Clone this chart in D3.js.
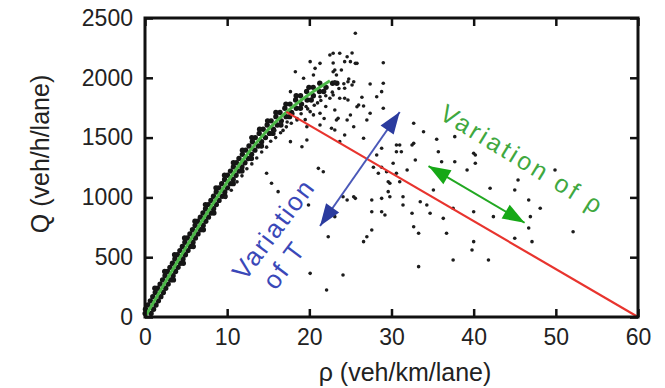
<!DOCTYPE html>
<html>
<head>
<meta charset="utf-8">
<script src="https://cdn.jsdelivr.net/npm/d3@7"></script>
<style>
  body { margin: 0; background: #fff; }
  svg { display: block; }
  text { font-family: "Liberation Sans", Arial, sans-serif; }
</style>
</head>
<body>
<script>
// tick labels
const rhoTicks = [0, 10, 20, 30, 40, 50, 60];
const qTicks = [0, 500, 1000, 1500, 2000, 2500];

// measured (rho, Q) points of the dense free-flow band, both sides of the fit
const bandPoints = [
  [0.02,30],[0.74,30],[0.06,65],[1.04,65],[0.36,100],[1.34,100],[0.65,135],[1.63,135],
  [0.95,170],[1.93,170],[1.25,205],[2.23,205],[1.54,240],[2.52,240],[1.84,275],[2.82,275],
  [2.14,310],[3.12,310],[2.44,345],[3.42,345],[2.74,380],[3.72,380],[3.04,415],[4.02,415],
  [3.34,450],[4.32,450],[3.64,485],[4.62,485],[3.94,520],[4.92,520],[4.25,555],[5.23,555],
  [4.55,590],[5.53,590],[4.86,625],[5.84,625],[5.16,660],[6.14,660],[5.47,695],[6.45,695],
  [5.78,730],[6.76,730],[6.1,765],[7.08,765],[6.42,800],[7.4,800],[6.74,835],[7.72,835],
  [7.06,870],[8.04,870],[7.37,905],[8.35,905],[7.7,940],[8.68,940],[8.03,975],[9.01,975],
  [8.34,1010],[9.38,1010],[8.67,1045],[9.71,1045],[9.0,1080],[10.04,1080],[9.34,1115],[10.38,1115],
  [9.69,1150],[10.73,1150],[10.04,1185],[11.08,1185],[10.4,1220],[11.44,1220],[10.76,1255],[11.8,1255],
  [11.12,1290],[12.16,1290],[11.44,1325],[12.56,1325],[11.85,1360],[12.97,1360],[12.25,1395],[13.37,1395],
  [12.66,1430],[13.78,1430],[13.07,1465],[14.19,1465],[13.42,1500],[14.66,1500],[13.9,1535],[15.14,1535],
  [14.38,1570],[15.62,1570],[14.87,1605],[16.11,1605],[15.35,1640],[16.59,1640],[15.93,1675],[17.17,1675],
  [16.43,1710],[17.83,1710],[17.02,1745],[18.42,1745],[17.65,1780],[19.05,1780],[18.33,1815],[19.73,1815],
  [18.93,1850],[20.49,1850],[19.67,1885],[21.23,1885],[20.47,1920],[22.03,1920],[21.27,1955],[22.83,1955],
  // ragged edges
  [1.2,240],[2.4,380],[3.6,520],[4.82,660],[6.08,800],[7.36,940],[8.64,1080],[9.68,1185],
  [10.76,1290],[11.86,1395],[13.0,1500],[13.95,1570],[14.92,1640],[15.93,1710],[17.15,1780],[18.4,1850],
  [19.95,1920],
  [3.46,310],[4.66,450],[5.87,590],[7.1,730],[8.38,870],[9.74,1010],[10.74,1115],[11.8,1220],
  [12.95,1325],[14.17,1430],[15.57,1535],[16.54,1605],[17.6,1675],[18.92,1745],[20.23,1815],[21.75,1885],
  [23.35,1955]
];

// scattered measurements away from the band
const spreadPoints = [
  [25.6,2372],[22.5,2191],[23.7,2205],[24.6,2176],[25.0,2135],[25.8,2121],[22.9,2205],[25.2,2207],
  [22.9,2124],[24.3,2135],[25.6,2121],[23.1,2065],[23.9,2065],[23.3,2023],[24.7,1967],[23.1,1967],
  [25.4,1967],[24.3,1912],[22.9,1856],[23.7,1829],[24.3,1829],[25.8,1758],[26.6,1764],[23.1,1731],
  [25.0,1689],[23.5,1661],[25.4,1591],[24.3,1522],[23.1,1564],[23.7,1466],
  [29.0,2126],[27.4,1948],[29.0,1954],[28.8,1884],[28.2,1842],[26.4,1837],[29.0,1745],[27.4,1703],
  [27.0,1647],[32.7,1620],[33.9,1549],[35.5,1486],[37.7,1508],[26.6,1494],[30.6,1438],[32.5,1438],
  [28.8,1411],
  [20.1,2135],[21.3,2121],[20.7,2079],[18.3,2051],[19.3,1996],[20.5,2023],[22.9,2051],[25.2,1940],
  [17.7,1884],[21.3,1842],[22.5,1829],[24.7,1814],[26.0,1773],[20.1,1717],[21.3,1703],[24.6,1647],
  [23.3,1647],[18.5,1647],[21.3,1605],[19.7,1591],[22.7,1578],[19.7,1480],[19.1,1424],[17.7,1466],
  [28.2,1355],[30.6,1382],[30.2,1285],[30.6,1202],[28.4,1202],[21.1,1243],[21.7,1215],[14.8,1202],
  [15.4,1118],[29.6,1131],[29.6,1048],[25.4,1006],[24.1,1006],
  [31.0,1438],[32.7,1452],[31.2,1382],[35.7,1382],[40.0,1369],[32.9,1313],[36.1,1298],[37.7,1298],
  [31.9,1229],[29.4,1215],[40.2,1285],[39.2,1229],[27.8,1252],[28.8,1252],[45.4,1145],[49.9,1229],
  [42.0,1076],[45.0,1062],[35.1,1062],[29.8,1118],[31.0,1131],[29.8,1006],[28.8,992],[27.6,978],
  [25.6,992],[24.6,978],[31.4,936],[32.5,867],[28.8,880],[29.2,853],[27.6,880],[34.7,867],
  [36.3,825],[40.0,880],[46.7,978],[48.1,909],[46.9,839],[23.1,839],[32.7,755],[33.3,700],
  [36.7,700],[27.6,727],[27.0,671],[26.6,630],[22.3,671],[40.0,630],[39.8,560],[45.0,658],
  [47.1,630],[52.1,713],[37.5,477],[41.8,477],[33.3,421],[20.1,365],[24.1,351],[22.1,226],
  [16.2,1048],[33.5,964],[34.3,936],[37.5,909],[40.2,1355],[31.4,1006],[46.7,744],[42.4,839],
  [19.9,936],
  [18.9,1800],[19.6,1760],[20.5,1690],[21.8,1660],[22.0,1760],[21.0,1790],[19.5,1650],[18.0,1700],
  [17.3,1630],[16.5,1620],[15.8,1560],[16.8,1560],
  [9.8,1000],[10.5,1060],[11.2,1130],[11.8,1180],[12.4,1240],[13.0,1280],[13.6,1330],[14.2,1380],
  [14.8,1420],[15.3,1470],[15.9,1500],[16.5,1540],[17.2,1590],[17.8,1620],[18.5,1660],[19.0,1700],
  [19.8,1740],[20.6,1770],[21.4,1810],[22.0,1850],[22.8,1880],[23.6,1910],[24.2,1950],[24.8,1990]
];

// fitted free-flow curve (green)
const fitCurve = [
  [0,0],[2,236],[4,470],[6,700],[8,920],[10,1130],[12,1325],
  [14,1497],[16,1642],[18,1762],[20,1865],[22,1953],[22.5,1975]
];
// congested branch (red)
const congestedLine = [[17.2,1715],[60,0]];
// double arrows
const tauArrow = [[21.3,761],[31.0,1714]];
const rhoArrow = [[34.5,1262],[46.2,788]];

const W = 665, H = 388;
const x = d3.scaleLinear().domain([0, 60]).range([145, 638]);
const y = d3.scaleLinear().domain([0, 2500]).range([317, 18]);

const svg = d3.select('body').append('svg')
    .attr('width', W)
    .attr('height', H);

// scatter: the band is heavily overplotted, so its dots merge into a solid stroke
svg.append('g')
    .selectAll('circle')
    .data(bandPoints)
    .join('circle')
    .attr('cx', d => x(d[0]))
    .attr('cy', d => y(d[1]))
    .attr('r', 2.7)
    .attr('fill', '#151515');
svg.append('g')
    .selectAll('circle')
    .data(spreadPoints)
    .join('circle')
    .attr('cx', d => x(d[0]))
    .attr('cy', d => y(d[1]))
    .attr('r', 1.8)
    .attr('fill', '#1c1c1c');

// fit curve
svg.append('path')
    .attr('d', d3.line().curve(d3.curveBasis).x(d => x(d[0])).y(d => y(d[1]))(fitCurve))
    .attr('fill', 'none')
    .attr('stroke', '#4cb848')
    .attr('stroke-width', 3);

svg.append('path')
    .attr('d', d3.line().x(d => x(d[0])).y(d => y(d[1]))(congestedLine))
    .attr('fill', 'none')
    .attr('stroke', '#e8342e')
    .attr('stroke-width', 2.2);

// double-headed arrows
function doubleArrow(pts, lineColor, headColor) {
  const p1 = [x(pts[0][0]), y(pts[0][1])];
  const p2 = [x(pts[1][0]), y(pts[1][1])];
  const g = svg.append('g');
  g.append('line')
      .attr('x1', p1[0]).attr('y1', p1[1])
      .attr('x2', p2[0]).attr('y2', p2[1])
      .attr('stroke', lineColor)
      .attr('stroke-width', 2);
  [[p1, p2], [p2, p1]].forEach(([from, tip]) => {
    const a = Math.atan2(tip[1] - from[1], tip[0] - from[0]);
    const L = 22, w = 8;
    const bx = tip[0] - L * Math.cos(a), by = tip[1] - L * Math.sin(a);
    g.append('path')
        .attr('d', `M${tip[0]},${tip[1]}L${bx + w * Math.sin(a)},${by - w * Math.cos(a)}` +
                   `L${bx - w * Math.sin(a)},${by + w * Math.cos(a)}Z`)
        .attr('fill', headColor);
  });
}
doubleArrow(tauArrow, '#4a58b8', '#2b3b9e');
doubleArrow(rhoArrow, '#22a822', '#16a816');

// axes
const tickStyle = g => {
  g.select('.domain').remove();
  g.selectAll('.tick line').attr('stroke', '#111').attr('stroke-width', 2.5);
  g.selectAll('.tick text').attr('fill', '#222').attr('font-size', 23);
};
svg.append('g')
    .attr('transform', `translate(0,${y(0)})`)
    .call(d3.axisBottom(x).tickValues(rhoTicks).tickFormat(d3.format('d'))
      .tickSizeInner(-8).tickSizeOuter(0).tickPadding(12))
    .call(tickStyle);
svg.append('g')
    .attr('transform', `translate(${x(0)},0)`)
    .call(d3.axisLeft(y).tickValues(qTicks).tickFormat(d3.format('d'))
      .tickSizeInner(-8).tickSizeOuter(0).tickPadding(12))
    .call(tickStyle);
svg.append('g')
    .attr('transform', `translate(0,${y(2500)})`)
    .call(d3.axisTop(x).tickValues(rhoTicks).tickSizeInner(-8).tickSizeOuter(0).tickFormat(''))
    .call(tickStyle);
svg.append('g')
    .attr('transform', `translate(${x(60)},0)`)
    .call(d3.axisRight(y).tickValues(qTicks).tickSizeInner(-8).tickSizeOuter(0).tickFormat(''))
    .call(tickStyle);

svg.append('rect')
    .attr('x', x(0)).attr('y', y(2500))
    .attr('width', x(60) - x(0)).attr('height', y(0) - y(2500))
    .attr('fill', 'none')
    .attr('stroke', '#111')
    .attr('stroke-width', 3);

// axis titles
svg.append('text')
    .attr('x', 405).attr('y', 381)
    .attr('text-anchor', 'middle')
    .attr('font-size', 25)
    .attr('fill', '#222')
    .text('ρ (veh/km/lane)');
svg.append('text')
    .attr('transform', 'translate(49,154) rotate(-90)')
    .attr('text-anchor', 'middle')
    .attr('font-size', 25)
    .attr('fill', '#222')
    .text('Q (veh/h/lane)');

// annotations
const rhoLabel = svg.append('g')
    .attr('transform', `translate(${x(35.66)},${y(1664)}) rotate(31.5)`);
rhoLabel.append('text')
    .attr('font-size', 25)
    .attr('letter-spacing', 3)
    .attr('fill', '#3fa83f')
    .text('Variation of ρ');

const tauLabel = svg.append('g')
    .attr('transform', `translate(${x(12.17)},${y(293)}) rotate(-53)`);
tauLabel.append('text')
    .attr('font-size', 26)
    .attr('letter-spacing', 2)
    .attr('fill', '#3a48b8')
    .text('Variation');
tauLabel.append('text')
    .attr('x', 11).attr('y', 30)
    .attr('font-size', 26)
    .attr('letter-spacing', 2)
    .attr('fill', '#3a48b8')
    .text('of T');
</script>
</body>
</html>
